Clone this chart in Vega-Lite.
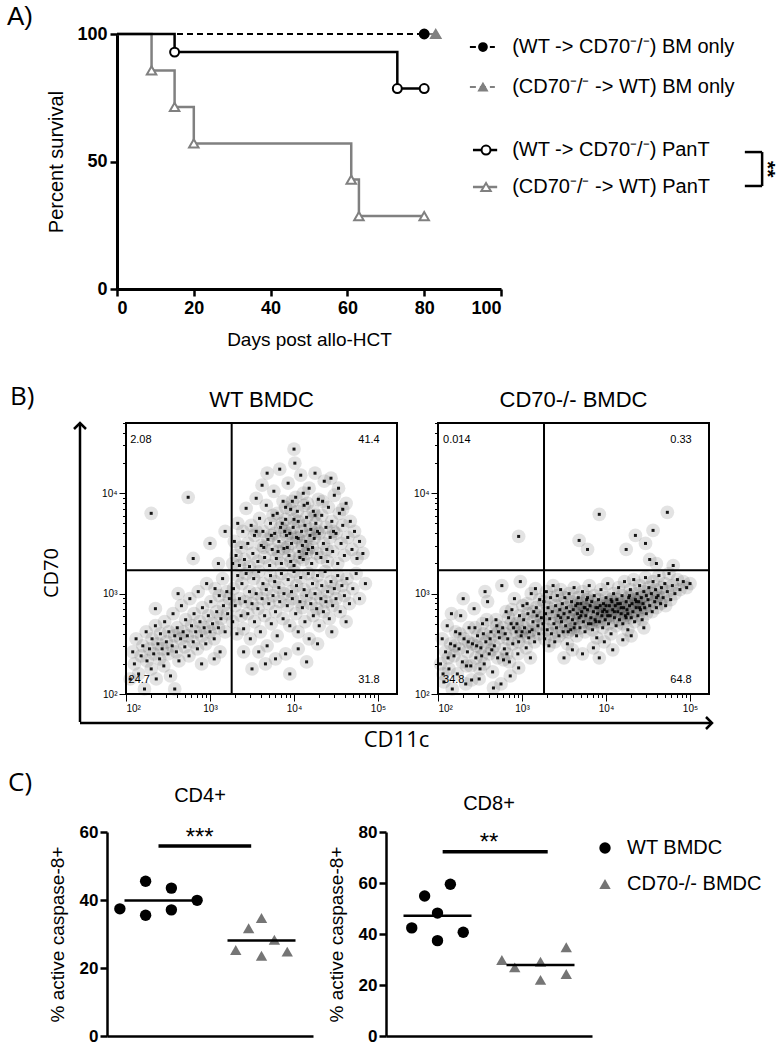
{
"$schema":"https://vega.github.io/schema/vega-lite/v6.json",
"autosize":{"type":"none"},
"padding":{"left":80,"top":34,"right":701,"bottom":1016},
"background":"white",
"config":{
 "view":{"stroke":null},
 "font":"Liberation Sans",
 "axis":{"labelFont":"Liberation Sans","titleFont":"Liberation Sans","titleFontWeight":"normal","domainColor":"black","tickColor":"black","labelColor":"black","titleColor":"black","grid":false},
 "title":{"font":"Liberation Sans","fontWeight":"normal","color":"black"},
 "text":{"font":"Liberation Sans","color":"black"},
 "legend":{"labelFont":"Liberation Sans","labelColor":"black"}
},
"datasets":{
 "surv":[
  {"series":"BMwt","day":0,"pct":100},{"series":"BMwt","day":80,"pct":100},
  {"series":"BMko","day":0,"pct":100},{"series":"BMko","day":83,"pct":100},
  {"series":"PTwt","day":0,"pct":100},{"series":"PTwt","day":15,"pct":92.9},{"series":"PTwt","day":73,"pct":78.6},{"series":"PTwt","day":80,"pct":78.6},
  {"series":"PTko","day":0,"pct":100},{"series":"PTko","day":9,"pct":85.7},{"series":"PTko","day":15,"pct":71.4},{"series":"PTko","day":20,"pct":57.1},{"series":"PTko","day":61,"pct":42.9},{"series":"PTko","day":63,"pct":28.6},{"series":"PTko","day":80,"pct":28.6}
 ],
 "wt":[
  {"cd11c":2.05,"cd70":2.15},{"cd11c":2.08,"cd70":2.42},{"cd11c":2.10,"cd70":2.30},{"cd11c":2.12,"cd70":2.55},{"cd11c":2.15,"cd70":2.20},{"cd11c":2.18,"cd70":2.38},{"cd11c":2.20,"cd70":2.48},{"cd11c":2.22,"cd70":2.05},{"cd11c":2.24,"cd70":2.62},{"cd11c":2.25,"cd70":2.33},
  {"cd11c":2.28,"cd70":2.45},{"cd11c":2.30,"cd70":2.25},{"cd11c":2.31,"cd70":2.55},{"cd11c":2.33,"cd70":2.40},{"cd11c":2.35,"cd70":2.68},{"cd11c":2.36,"cd70":2.15},{"cd11c":2.38,"cd70":2.50},{"cd11c":2.40,"cd70":2.35},{"cd11c":2.41,"cd70":2.60},{"cd11c":2.43,"cd70":2.45},
  {"cd11c":2.45,"cd70":2.28},{"cd11c":2.46,"cd70":2.72},{"cd11c":2.48,"cd70":2.52},{"cd11c":2.50,"cd70":2.40},{"cd11c":2.51,"cd70":2.62},{"cd11c":2.53,"cd70":2.18},{"cd11c":2.55,"cd70":2.48},{"cd11c":2.56,"cd70":2.80},{"cd11c":2.58,"cd70":2.58},{"cd11c":2.60,"cd70":2.42},
  {"cd11c":2.61,"cd70":2.66},{"cd11c":2.63,"cd70":2.33},{"cd11c":2.65,"cd70":2.55},{"cd11c":2.66,"cd70":2.88},{"cd11c":2.68,"cd70":2.62},{"cd11c":2.70,"cd70":2.47},{"cd11c":2.71,"cd70":2.74},{"cd11c":2.73,"cd70":2.58},{"cd11c":2.75,"cd70":2.38},{"cd11c":2.76,"cd70":2.95},
  {"cd11c":2.78,"cd70":2.68},{"cd11c":2.80,"cd70":2.52},{"cd11c":2.81,"cd70":2.80},{"cd11c":2.83,"cd70":2.62},{"cd11c":2.85,"cd70":2.45},{"cd11c":2.86,"cd70":3.02},{"cd11c":2.88,"cd70":2.72},{"cd11c":2.90,"cd70":2.58},{"cd11c":2.91,"cd70":2.86},{"cd11c":2.93,"cd70":2.66},
  {"cd11c":2.95,"cd70":2.50},{"cd11c":2.96,"cd70":3.10},{"cd11c":2.98,"cd70":2.78},{"cd11c":3.00,"cd70":2.62},{"cd11c":3.01,"cd70":2.92},{"cd11c":3.03,"cd70":2.70},{"cd11c":3.05,"cd70":2.55},{"cd11c":3.06,"cd70":3.05},{"cd11c":3.08,"cd70":2.82},{"cd11c":3.10,"cd70":2.66},
  {"cd11c":3.11,"cd70":2.98},{"cd11c":3.13,"cd70":2.75},{"cd11c":3.15,"cd70":3.15},{"cd11c":3.16,"cd70":2.88},{"cd11c":3.18,"cd70":2.62},{"cd11c":3.20,"cd70":3.02},{"cd11c":3.21,"cd70":2.80},{"cd11c":3.23,"cd70":2.95},{"cd11c":2.58,"cd70":2.05},{"cd11c":2.90,"cd70":2.30},
  {"cd11c":3.12,"cd70":2.42},{"cd11c":2.35,"cd70":2.85},{"cd11c":2.62,"cd70":3.00},{"cd11c":3.05,"cd70":2.35},
  {"cd11c":2.30,"cd70":3.80},{"cd11c":2.74,"cd70":3.96},{"cd11c":2.80,"cd70":3.35},{"cd11c":3.00,"cd70":3.50},{"cd11c":3.10,"cd70":3.30},{"cd11c":3.18,"cd70":3.62},
  {"cd11c":3.27,"cd70":2.72},{"cd11c":3.28,"cd70":3.05},{"cd11c":3.30,"cd70":2.88},{"cd11c":3.32,"cd70":2.60},{"cd11c":3.33,"cd70":3.18},{"cd11c":3.35,"cd70":2.95},{"cd11c":3.37,"cd70":2.78},{"cd11c":3.38,"cd70":3.10},{"cd11c":3.40,"cd70":2.65},{"cd11c":3.42,"cd70":2.92},
  {"cd11c":3.43,"cd70":3.20},{"cd11c":3.45,"cd70":2.80},{"cd11c":3.47,"cd70":3.02},{"cd11c":3.48,"cd70":2.55},{"cd11c":3.50,"cd70":2.90},{"cd11c":3.52,"cd70":3.15},{"cd11c":3.53,"cd70":2.72},{"cd11c":3.55,"cd70":3.00},{"cd11c":3.57,"cd70":2.85},{"cd11c":3.58,"cd70":3.22},
  {"cd11c":3.60,"cd70":2.62},{"cd11c":3.62,"cd70":2.95},{"cd11c":3.63,"cd70":3.10},{"cd11c":3.65,"cd70":2.78},{"cd11c":3.67,"cd70":3.04},{"cd11c":3.68,"cd70":2.48},{"cd11c":3.70,"cd70":2.90},{"cd11c":3.72,"cd70":3.18},{"cd11c":3.73,"cd70":2.70},{"cd11c":3.75,"cd70":2.98},
  {"cd11c":3.77,"cd70":3.12},{"cd11c":3.78,"cd70":2.82},{"cd11c":3.80,"cd70":2.58},{"cd11c":3.82,"cd70":3.06},{"cd11c":3.83,"cd70":2.92},{"cd11c":3.85,"cd70":3.20},{"cd11c":3.87,"cd70":2.75},{"cd11c":3.88,"cd70":3.00},{"cd11c":3.90,"cd70":2.40},{"cd11c":3.92,"cd70":2.88},
  {"cd11c":3.93,"cd70":3.14},{"cd11c":3.95,"cd70":2.68},{"cd11c":3.97,"cd70":3.02},{"cd11c":3.98,"cd70":2.95},{"cd11c":4.00,"cd70":3.22},{"cd11c":4.02,"cd70":2.80},{"cd11c":4.03,"cd70":3.08},{"cd11c":4.05,"cd70":2.62},{"cd11c":4.07,"cd70":2.92},{"cd11c":4.08,"cd70":3.16},
  {"cd11c":4.10,"cd70":2.86},{"cd11c":4.12,"cd70":3.04},{"cd11c":4.13,"cd70":2.72},{"cd11c":4.15,"cd70":2.98},{"cd11c":4.17,"cd70":3.20},{"cd11c":4.18,"cd70":2.55},{"cd11c":4.20,"cd70":2.90},{"cd11c":4.22,"cd70":3.10},{"cd11c":4.23,"cd70":2.78},{"cd11c":4.25,"cd70":3.00},
  {"cd11c":4.27,"cd70":2.85},{"cd11c":4.28,"cd70":3.18},{"cd11c":4.30,"cd70":2.68},{"cd11c":4.32,"cd70":2.95},{"cd11c":4.33,"cd70":3.08},{"cd11c":4.35,"cd70":2.82},{"cd11c":4.37,"cd70":3.22},{"cd11c":4.38,"cd70":2.92},{"cd11c":4.40,"cd70":3.02},{"cd11c":4.42,"cd70":2.75},
  {"cd11c":4.44,"cd70":3.12},{"cd11c":4.46,"cd70":2.88},{"cd11c":4.48,"cd70":3.05},{"cd11c":4.50,"cd70":2.95},{"cd11c":4.52,"cd70":3.18},{"cd11c":4.55,"cd70":2.82},{"cd11c":4.57,"cd70":3.08},{"cd11c":4.60,"cd70":2.98},{"cd11c":4.63,"cd70":3.15},{"cd11c":4.66,"cd70":2.90},
  {"cd11c":4.70,"cd70":3.05},{"cd11c":4.74,"cd70":3.20},{"cd11c":4.78,"cd70":2.95},{"cd11c":3.78,"cd70":2.35},{"cd11c":4.05,"cd70":2.45},{"cd11c":4.28,"cd70":2.50},{"cd11c":3.58,"cd70":2.42},{"cd11c":4.45,"cd70":2.62},{"cd11c":3.40,"cd70":2.42},{"cd11c":4.62,"cd70":2.72},
  {"cd11c":3.95,"cd70":2.20},{"cd11c":4.15,"cd70":2.32},{"cd11c":3.66,"cd70":2.30},{"cd11c":4.85,"cd70":3.10},{"cd11c":3.50,"cd70":2.25},
  {"cd11c":3.27,"cd70":3.30},{"cd11c":3.29,"cd70":3.52},{"cd11c":3.31,"cd70":3.38},{"cd11c":3.33,"cd70":3.70},{"cd11c":3.35,"cd70":3.28},{"cd11c":3.37,"cd70":3.46},{"cd11c":3.39,"cd70":3.62},{"cd11c":3.41,"cd70":3.34},{"cd11c":3.43,"cd70":3.85},{"cd11c":3.45,"cd70":3.50},
  {"cd11c":3.47,"cd70":3.27},{"cd11c":3.49,"cd70":3.68},{"cd11c":3.51,"cd70":3.40},{"cd11c":3.53,"cd70":3.58},{"cd11c":3.55,"cd70":3.95},{"cd11c":3.57,"cd70":3.32},{"cd11c":3.59,"cd70":3.75},{"cd11c":3.61,"cd70":3.48},{"cd11c":3.63,"cd70":3.62},{"cd11c":3.65,"cd70":3.36},
  {"cd11c":3.67,"cd70":3.88},{"cd11c":3.69,"cd70":3.54},{"cd11c":3.71,"cd70":3.28},{"cd11c":3.72,"cd70":3.70},{"cd11c":3.74,"cd70":3.44},{"cd11c":3.76,"cd70":4.02},{"cd11c":3.77,"cd70":3.60},{"cd11c":3.79,"cd70":3.35},{"cd11c":3.80,"cd70":3.80},{"cd11c":3.82,"cd70":3.52},
  {"cd11c":3.84,"cd70":3.66},{"cd11c":3.85,"cd70":3.30},{"cd11c":3.87,"cd70":3.92},{"cd11c":3.88,"cd70":3.45},{"cd11c":3.90,"cd70":3.74},{"cd11c":3.91,"cd70":3.58},{"cd11c":3.93,"cd70":4.10},{"cd11c":3.94,"cd70":3.38},{"cd11c":3.96,"cd70":3.84},{"cd11c":3.97,"cd70":3.50},
  {"cd11c":3.99,"cd70":3.66},{"cd11c":4.00,"cd70":3.28},{"cd11c":4.02,"cd70":3.96},{"cd11c":4.03,"cd70":3.56},{"cd11c":4.05,"cd70":3.72},{"cd11c":4.06,"cd70":3.42},{"cd11c":4.08,"cd70":4.18},{"cd11c":4.09,"cd70":3.62},{"cd11c":4.11,"cd70":3.34},{"cd11c":4.12,"cd70":3.88},
  {"cd11c":4.14,"cd70":3.52},{"cd11c":4.15,"cd70":3.76},{"cd11c":4.17,"cd70":3.44},{"cd11c":4.18,"cd70":4.05},{"cd11c":4.20,"cd70":3.64},{"cd11c":4.21,"cd70":3.30},{"cd11c":4.23,"cd70":3.82},{"cd11c":4.24,"cd70":3.55},{"cd11c":4.26,"cd70":3.70},{"cd11c":4.27,"cd70":3.40},
  {"cd11c":4.29,"cd70":3.94},{"cd11c":4.30,"cd70":3.60},{"cd11c":4.32,"cd70":3.36},{"cd11c":4.33,"cd70":3.78},{"cd11c":4.35,"cd70":3.50},{"cd11c":4.36,"cd70":4.12},{"cd11c":4.38,"cd70":3.66},{"cd11c":4.40,"cd70":3.32},{"cd11c":4.41,"cd70":3.86},{"cd11c":4.43,"cd70":3.56},
  {"cd11c":4.45,"cd70":3.72},{"cd11c":4.46,"cd70":3.42},{"cd11c":4.48,"cd70":3.98},{"cd11c":4.50,"cd70":3.60},{"cd11c":4.52,"cd70":3.30},{"cd11c":4.54,"cd70":3.80},{"cd11c":4.56,"cd70":3.50},{"cd11c":4.58,"cd70":3.68},{"cd11c":4.60,"cd70":3.38},{"cd11c":4.62,"cd70":3.90},
  {"cd11c":4.64,"cd70":3.56},{"cd11c":4.67,"cd70":3.72},{"cd11c":4.69,"cd70":3.44},{"cd11c":4.72,"cd70":3.62},{"cd11c":4.75,"cd70":3.35},{"cd11c":4.78,"cd70":3.52},{"cd11c":4.82,"cd70":3.40},{"cd11c":3.83,"cd70":4.24},{"cd11c":4.01,"cd70":4.30},{"cd11c":4.25,"cd70":4.20},
  {"cd11c":3.62,"cd70":4.08},{"cd11c":4.44,"cd70":4.15},{"cd11c":3.95,"cd70":3.60},{"cd11c":4.10,"cd70":3.48},{"cd11c":3.86,"cd70":3.70},{"cd11c":4.04,"cd70":3.82},{"cd11c":4.19,"cd70":3.58},{"cd11c":3.92,"cd70":3.46},{"cd11c":4.13,"cd70":3.68},{"cd11c":3.98,"cd70":3.92},
  {"cd11c":4.07,"cd70":3.36},{"cd11c":3.89,"cd70":3.62},{"cd11c":4.16,"cd70":3.90},{"cd11c":3.81,"cd70":3.42},{"cd11c":4.22,"cd70":3.46},{"cd11c":4.00,"cd70":3.74},{"cd11c":3.73,"cd70":3.58},{"cd11c":4.28,"cd70":3.62},{"cd11c":3.96,"cd70":3.32},{"cd11c":4.11,"cd70":4.00},
  {"cd11c":3.64,"cd70":3.46},{"cd11c":4.34,"cd70":3.92},{"cd11c":3.55,"cd70":3.62},{"cd11c":4.47,"cd70":3.62},{"cd11c":3.75,"cd70":3.78},{"cd11c":4.58,"cd70":3.84},{"cd11c":4.39,"cd70":3.44},{"cd11c":3.68,"cd70":4.20},{"cd11c":4.53,"cd70":4.05},{"cd11c":4.00,"cd70":4.44},
  {"cd11c":4.05,"cd70":3.55},{"cd11c":3.90,"cd70":3.86},{"cd11c":4.25,"cd70":3.78},{"cd11c":4.15,"cd70":3.40}
 ],
 "ko":[
  {"cd11c":2.03,"cd70":2.30},{"cd11c":2.05,"cd70":2.55},{"cd11c":2.07,"cd70":2.12},{"cd11c":2.09,"cd70":2.42},{"cd11c":2.11,"cd70":2.68},{"cd11c":2.13,"cd70":2.25},{"cd11c":2.15,"cd70":2.50},{"cd11c":2.17,"cd70":2.05},{"cd11c":2.19,"cd70":2.38},{"cd11c":2.21,"cd70":2.62},
  {"cd11c":2.23,"cd70":2.20},{"cd11c":2.25,"cd70":2.45},{"cd11c":2.27,"cd70":2.78},{"cd11c":2.29,"cd70":2.32},{"cd11c":2.31,"cd70":2.55},{"cd11c":2.33,"cd70":2.10},{"cd11c":2.35,"cd70":2.42},{"cd11c":2.37,"cd70":2.66},{"cd11c":2.39,"cd70":2.28},{"cd11c":2.41,"cd70":2.50},
  {"cd11c":2.43,"cd70":2.85},{"cd11c":2.45,"cd70":2.36},{"cd11c":2.47,"cd70":2.58},{"cd11c":2.49,"cd70":2.15},{"cd11c":2.51,"cd70":2.46},{"cd11c":2.53,"cd70":2.70},{"cd11c":2.55,"cd70":2.30},{"cd11c":2.57,"cd70":2.52},{"cd11c":2.59,"cd70":2.92},{"cd11c":2.61,"cd70":2.40},
  {"cd11c":2.63,"cd70":2.62},{"cd11c":2.65,"cd70":2.22},{"cd11c":2.67,"cd70":2.48},{"cd11c":2.69,"cd70":2.74},{"cd11c":2.71,"cd70":2.36},{"cd11c":2.73,"cd70":2.56},{"cd11c":2.75,"cd70":2.10},{"cd11c":2.77,"cd70":2.66},{"cd11c":2.79,"cd70":2.45},{"cd11c":2.81,"cd70":2.82},
  {"cd11c":2.83,"cd70":2.55},{"cd11c":2.85,"cd70":2.32},{"cd11c":2.87,"cd70":2.70},{"cd11c":2.89,"cd70":2.50},{"cd11c":2.91,"cd70":2.95},{"cd11c":2.93,"cd70":2.62},{"cd11c":2.95,"cd70":2.40},{"cd11c":2.97,"cd70":2.78},{"cd11c":2.99,"cd70":2.58},{"cd11c":3.01,"cd70":2.88},
  {"cd11c":3.03,"cd70":2.66},{"cd11c":3.05,"cd70":2.46},{"cd11c":3.07,"cd70":2.80},{"cd11c":3.09,"cd70":2.62},{"cd11c":3.11,"cd70":3.00},{"cd11c":3.13,"cd70":2.72},{"cd11c":3.15,"cd70":2.52},{"cd11c":3.17,"cd70":2.86},{"cd11c":3.19,"cd70":2.68},{"cd11c":3.21,"cd70":2.94},
  {"cd11c":3.23,"cd70":2.76},{"cd11c":2.26,"cd70":2.60},{"cd11c":2.34,"cd70":2.28},{"cd11c":2.44,"cd70":2.66},{"cd11c":2.52,"cd70":2.38},{"cd11c":2.58,"cd70":2.74},{"cd11c":2.64,"cd70":2.44},{"cd11c":2.72,"cd70":2.62},{"cd11c":2.78,"cd70":2.34},{"cd11c":2.84,"cd70":2.76},
  {"cd11c":2.90,"cd70":2.66},{"cd11c":2.96,"cd70":2.52},{"cd11c":3.02,"cd70":2.74},{"cd11c":3.08,"cd70":2.56},{"cd11c":3.14,"cd70":2.82},{"cd11c":3.20,"cd70":2.60},{"cd11c":2.62,"cd70":2.55},{"cd11c":2.70,"cd70":2.68},{"cd11c":2.80,"cd70":2.60},{"cd11c":2.88,"cd70":2.84},
  {"cd11c":2.94,"cd70":2.70},{"cd11c":3.00,"cd70":2.62},{"cd11c":3.06,"cd70":2.90},{"cd11c":3.12,"cd70":2.64},{"cd11c":3.18,"cd70":2.78},{"cd11c":2.46,"cd70":2.48},{"cd11c":2.54,"cd70":2.60},{"cd11c":2.36,"cd70":2.52},{"cd11c":2.20,"cd70":2.48},{"cd11c":2.12,"cd70":2.36},
  {"cd11c":2.40,"cd70":2.14},{"cd11c":2.66,"cd70":2.06},{"cd11c":2.86,"cd70":2.18},{"cd11c":2.96,"cd70":2.26},{"cd11c":3.10,"cd70":2.36},{"cd11c":2.56,"cd70":3.02},{"cd11c":2.30,"cd70":2.95},{"cd11c":2.76,"cd70":3.08},{"cd11c":2.98,"cd70":3.12},{"cd11c":2.16,"cd70":2.80},
  {"cd11c":2.06,"cd70":2.20},{"cd11c":2.50,"cd70":2.25},{"cd11c":3.16,"cd70":3.05},{"cd11c":2.82,"cd70":2.40},
  {"cd11c":3.25,"cd70":2.70},{"cd11c":3.26,"cd70":2.92},{"cd11c":3.27,"cd70":2.55},{"cd11c":3.28,"cd70":2.80},{"cd11c":3.29,"cd70":3.02},{"cd11c":3.30,"cd70":2.64},{"cd11c":3.31,"cd70":2.86},{"cd11c":3.32,"cd70":2.48},{"cd11c":3.33,"cd70":2.75},{"cd11c":3.34,"cd70":2.96},
  {"cd11c":3.35,"cd70":2.60},{"cd11c":3.36,"cd70":2.82},{"cd11c":3.37,"cd70":3.08},{"cd11c":3.38,"cd70":2.70},{"cd11c":3.39,"cd70":2.52},{"cd11c":3.40,"cd70":2.88},{"cd11c":3.41,"cd70":2.66},{"cd11c":3.42,"cd70":2.98},{"cd11c":3.43,"cd70":2.78},{"cd11c":3.44,"cd70":2.58},
  {"cd11c":3.45,"cd70":2.84},{"cd11c":3.46,"cd70":3.04},{"cd11c":3.47,"cd70":2.72},{"cd11c":3.48,"cd70":2.90},{"cd11c":3.49,"cd70":2.62},{"cd11c":3.50,"cd70":2.80},{"cd11c":3.51,"cd70":2.96},{"cd11c":3.52,"cd70":2.68},{"cd11c":3.53,"cd70":2.86},{"cd11c":3.54,"cd70":2.50},
  {"cd11c":3.55,"cd70":2.76},{"cd11c":3.56,"cd70":3.00},{"cd11c":3.57,"cd70":2.82},{"cd11c":3.58,"cd70":2.64},{"cd11c":3.59,"cd70":2.92},{"cd11c":3.60,"cd70":2.74},{"cd11c":3.61,"cd70":2.84},{"cd11c":3.62,"cd70":3.06},{"cd11c":3.63,"cd70":2.70},{"cd11c":3.64,"cd70":2.88},
  {"cd11c":3.65,"cd70":2.58},{"cd11c":3.66,"cd70":2.80},{"cd11c":3.67,"cd70":2.96},{"cd11c":3.68,"cd70":2.76},{"cd11c":3.69,"cd70":2.66},{"cd11c":3.70,"cd70":2.90},{"cd11c":3.71,"cd70":2.82},{"cd11c":3.72,"cd70":3.02},{"cd11c":3.73,"cd70":2.72},{"cd11c":3.74,"cd70":2.86},
  {"cd11c":3.75,"cd70":2.62},{"cd11c":3.76,"cd70":2.78},{"cd11c":3.77,"cd70":2.94},{"cd11c":3.78,"cd70":2.84},{"cd11c":3.79,"cd70":2.70},{"cd11c":3.80,"cd70":3.08},{"cd11c":3.81,"cd70":2.88},{"cd11c":3.82,"cd70":2.76},{"cd11c":3.83,"cd70":2.92},{"cd11c":3.84,"cd70":2.64},
  {"cd11c":3.85,"cd70":2.82},{"cd11c":3.86,"cd70":2.98},{"cd11c":3.87,"cd70":2.74},{"cd11c":3.88,"cd70":2.86},{"cd11c":3.89,"cd70":2.56},{"cd11c":3.90,"cd70":2.80},{"cd11c":3.91,"cd70":2.94},{"cd11c":3.92,"cd70":2.72},{"cd11c":3.93,"cd70":2.88},{"cd11c":3.94,"cd70":3.04},
  {"cd11c":3.95,"cd70":2.78},{"cd11c":3.96,"cd70":2.66},{"cd11c":3.97,"cd70":2.90},{"cd11c":3.98,"cd70":2.84},{"cd11c":3.99,"cd70":2.74},{"cd11c":4.00,"cd70":2.96},{"cd11c":4.01,"cd70":2.82},{"cd11c":4.02,"cd70":3.10},{"cd11c":4.03,"cd70":2.70},{"cd11c":4.04,"cd70":2.88},
  {"cd11c":4.05,"cd70":2.78},{"cd11c":4.06,"cd70":2.60},{"cd11c":4.07,"cd70":2.92},{"cd11c":4.08,"cd70":2.84},{"cd11c":4.09,"cd70":3.00},{"cd11c":4.10,"cd70":2.76},{"cd11c":4.11,"cd70":2.88},{"cd11c":4.12,"cd70":2.68},{"cd11c":4.13,"cd70":2.94},{"cd11c":4.14,"cd70":2.82},
  {"cd11c":4.15,"cd70":3.06},{"cd11c":4.16,"cd70":2.74},{"cd11c":4.17,"cd70":2.90},{"cd11c":4.18,"cd70":2.80},{"cd11c":4.19,"cd70":2.98},{"cd11c":4.20,"cd70":2.70},{"cd11c":4.21,"cd70":2.86},{"cd11c":4.22,"cd70":3.12},{"cd11c":4.23,"cd70":2.78},{"cd11c":4.24,"cd70":2.92},
  {"cd11c":4.25,"cd70":2.84},{"cd11c":4.26,"cd70":2.64},{"cd11c":4.27,"cd70":2.96},{"cd11c":4.28,"cd70":2.88},{"cd11c":4.29,"cd70":3.04},{"cd11c":4.30,"cd70":2.76},{"cd11c":4.31,"cd70":2.90},{"cd11c":4.32,"cd70":2.82},{"cd11c":4.33,"cd70":3.14},{"cd11c":4.34,"cd70":2.72},
  {"cd11c":4.35,"cd70":2.94},{"cd11c":4.36,"cd70":2.86},{"cd11c":4.37,"cd70":3.00},{"cd11c":4.38,"cd70":2.78},{"cd11c":4.39,"cd70":2.92},{"cd11c":4.40,"cd70":3.08},{"cd11c":4.41,"cd70":2.84},{"cd11c":4.42,"cd70":2.96},{"cd11c":4.43,"cd70":2.74},{"cd11c":4.44,"cd70":2.90},
  {"cd11c":4.45,"cd70":3.02},{"cd11c":4.46,"cd70":2.86},{"cd11c":4.47,"cd70":3.16},{"cd11c":4.48,"cd70":2.80},{"cd11c":4.50,"cd70":2.94},{"cd11c":4.51,"cd70":3.06},{"cd11c":4.52,"cd70":2.88},{"cd11c":4.54,"cd70":3.00},{"cd11c":4.55,"cd70":2.82},{"cd11c":4.56,"cd70":3.12},
  {"cd11c":4.58,"cd70":2.92},{"cd11c":4.59,"cd70":3.04},{"cd11c":4.60,"cd70":2.86},{"cd11c":4.62,"cd70":2.98},{"cd11c":4.63,"cd70":3.18},{"cd11c":4.65,"cd70":2.90},{"cd11c":4.66,"cd70":3.06},{"cd11c":4.68,"cd70":2.96},{"cd11c":4.70,"cd70":3.10},{"cd11c":4.71,"cd70":2.88},
  {"cd11c":4.73,"cd70":3.02},{"cd11c":4.75,"cd70":3.20},{"cd11c":4.77,"cd70":2.94},{"cd11c":4.79,"cd70":3.08},{"cd11c":4.82,"cd70":3.00},{"cd11c":4.85,"cd70":3.14},{"cd11c":4.88,"cd70":3.04},{"cd11c":4.92,"cd70":3.12},{"cd11c":4.96,"cd70":3.06},{"cd11c":5.00,"cd70":3.10},
  {"cd11c":3.60,"cd70":2.44},{"cd11c":3.72,"cd70":2.40},{"cd11c":3.85,"cd70":2.46},{"cd11c":3.98,"cd70":2.52},{"cd11c":4.08,"cd70":2.44},{"cd11c":4.20,"cd70":2.54},{"cd11c":3.50,"cd70":2.36},{"cd11c":3.92,"cd70":2.36},{"cd11c":4.30,"cd70":2.58},{"cd11c":4.45,"cd70":2.66},
  {"cd11c":3.66,"cd70":2.90},{"cd11c":3.78,"cd70":2.96},{"cd11c":3.90,"cd70":2.86},{"cd11c":4.02,"cd70":2.78},{"cd11c":4.14,"cd70":2.90},{"cd11c":4.26,"cd70":2.80},{"cd11c":3.70,"cd70":2.78},{"cd11c":3.82,"cd70":2.70},{"cd11c":3.96,"cd70":2.82},{"cd11c":4.06,"cd70":2.94},
  {"cd11c":4.18,"cd70":2.86},{"cd11c":4.28,"cd70":2.98},{"cd11c":3.62,"cd70":2.66},{"cd11c":3.88,"cd70":2.72},{"cd11c":4.10,"cd70":2.82},{"cd11c":4.36,"cd70":2.92},{"cd11c":4.48,"cd70":2.98},{"cd11c":4.60,"cd70":2.96},{"cd11c":3.55,"cd70":2.62},{"cd11c":3.75,"cd70":2.86},
  {"cd11c":4.00,"cd70":2.88},{"cd11c":4.24,"cd70":2.76},{"cd11c":3.46,"cd70":2.76},{"cd11c":4.40,"cd70":2.86},
  {"cd11c":2.96,"cd70":3.57},{"cd11c":3.68,"cd70":3.53},{"cd11c":3.78,"cd70":3.44},{"cd11c":3.92,"cd70":3.79},{"cd11c":4.24,"cd70":3.44},{"cd11c":4.35,"cd70":3.58},{"cd11c":4.47,"cd70":3.50},{"cd11c":4.56,"cd70":3.63},{"cd11c":4.73,"cd70":3.81},{"cd11c":4.60,"cd70":3.30},
  {"cd11c":4.80,"cd70":3.28},{"cd11c":4.52,"cd70":3.34}
 ],
 "cd4":[
  {"group":"WT BMDC","col":-3,"value":37.4},{"group":"WT BMDC","col":-1,"value":45.5},{"group":"WT BMDC","col":-1,"value":35.5},{"group":"WT BMDC","col":1,"value":43.5},{"group":"WT BMDC","col":1,"value":37.1},{"group":"WT BMDC","col":3,"value":39.9},
  {"group":"CD70-/- BMDC","col":-2,"value":25.3},{"group":"CD70-/- BMDC","col":-1,"value":31.7},{"group":"CD70-/- BMDC","col":0,"value":34.7},{"group":"CD70-/- BMDC","col":0,"value":23.6},{"group":"CD70-/- BMDC","col":1,"value":28.3},{"group":"CD70-/- BMDC","col":2,"value":24.8}
 ],
 "cd8":[
  {"group":"WT BMDC","col":-2,"value":42.4},{"group":"WT BMDC","col":-1,"value":54.9},{"group":"WT BMDC","col":0,"value":48.2},{"group":"WT BMDC","col":0,"value":37.4},{"group":"WT BMDC","col":1,"value":59.5},{"group":"WT BMDC","col":2,"value":40.7},
  {"group":"CD70-/- BMDC","col":-3,"value":29.8},{"group":"CD70-/- BMDC","col":-2,"value":26.9},{"group":"CD70-/- BMDC","col":0,"value":29.1},{"group":"CD70-/- BMDC","col":0,"value":22.0},{"group":"CD70-/- BMDC","col":2,"value":34.8},{"group":"CD70-/- BMDC","col":2,"value":24.3}
 ]
},
"bounds":"flush",
"spacing":798,
"vconcat":[
 {"bounds":"flush","spacing":389,"vconcat":[
  {"bounds":"flush","spacing":36,"hconcat":[
   {"width":1,"height":1,"title":{"text":"A)","anchor":"start","frame":"group","dx":-73,"offset":2,"fontSize":26},"data":{"values":[{}]},"mark":{"type":"point","opacity":0}},
   {"width":384,"height":255,
    "layer":[
     {"data":{"name":"surv"},
      "encoding":{
       "x":{"field":"day","type":"quantitative","scale":{"domain":[0,100],"nice":false},"axis":{"values":[0,20,40,60,80,100],"title":"Days post allo-HCT","titleFontSize":19,"titlePadding":13,"labelFontSize":18,"labelFontWeight":"bold","labelPadding":3,"tickSize":7,"tickWidth":2.5,"domainWidth":3}},
       "y":{"field":"pct","type":"quantitative","scale":{"domain":[0,100],"nice":false},"axis":{"values":[0,50,100],"title":"Percent survival","titleFontSize":20,"titlePadding":10,"labelFontSize":18,"labelFontWeight":"bold","labelPadding":3,"tickSize":7,"tickWidth":2.5,"domainWidth":3}}
      },
      "layer":[
       {"transform":[{"filter":"datum.series=='BMko'"}],"mark":{"type":"line","interpolate":"step-after","color":"#808080","strokeWidth":2,"strokeDash":[6,4]}},
       {"transform":[{"filter":"datum.series=='BMwt'"}],"mark":{"type":"line","interpolate":"step-after","color":"black","strokeWidth":2,"strokeDash":[6,4]}},
       {"transform":[{"filter":"datum.series=='PTko'"}],"mark":{"type":"line","interpolate":"step-after","color":"#808080","strokeWidth":2.5}},
       {"transform":[{"filter":"datum.series=='PTwt'"}],"mark":{"type":"line","interpolate":"step-after","color":"black","strokeWidth":2.5}},
       {"transform":[{"filter":"datum.day>0 && (datum.series=='BMko' || datum.series=='PTko')"}],"mark":{"type":"point","shape":"triangle-up","size":90,"stroke":"#808080","strokeWidth":2,"opacity":1},"encoding":{"fill":{"condition":{"test":"datum.series=='BMko'","value":"#808080"},"value":"white"}}},
       {"transform":[{"filter":"datum.day>0 && (datum.series=='BMwt' || datum.series=='PTwt')"}],"mark":{"type":"point","shape":"circle","size":80,"stroke":"black","strokeWidth":2,"opacity":1},"encoding":{"fill":{"condition":{"test":"datum.series=='BMwt'","value":"black"},"value":"white"}}}
      ]},
     {"data":{"values":[{}]},"mark":{"type":"rule","color":"black","strokeWidth":2,"strokeDash":[6,4]},"encoding":{"x":{"datum":91.9,"type":"quantitative"},"x2":{"datum":98.4},"y":{"datum":94.9,"type":"quantitative"}}},
     {"data":{"values":[{}]},"mark":{"type":"point","shape":"circle","size":60,"fill":"black","stroke":"black","opacity":1},"encoding":{"x":{"datum":95.3,"type":"quantitative"},"y":{"datum":94.9,"type":"quantitative"}}},
     {"data":{"values":[{"label":"(WT -> CD70⁻/⁻) BM only"}]},"mark":{"type":"text","align":"left","baseline":"middle","fontSize":20},"encoding":{"x":{"datum":102.9,"type":"quantitative"},"y":{"datum":94.9,"type":"quantitative"},"text":{"field":"label"}}},
     {"data":{"values":[{}]},"mark":{"type":"rule","color":"#808080","strokeWidth":2,"strokeDash":[6,4]},"encoding":{"x":{"datum":91.9,"type":"quantitative"},"x2":{"datum":98.4},"y":{"datum":79.2,"type":"quantitative"}}},
     {"data":{"values":[{}]},"mark":{"type":"point","shape":"triangle-up","size":60,"fill":"#808080","stroke":"#808080","opacity":1},"encoding":{"x":{"datum":95.3,"type":"quantitative"},"y":{"datum":79.2,"type":"quantitative"}}},
     {"data":{"values":[{"label":"(CD70⁻/⁻ -> WT) BM only"}]},"mark":{"type":"text","align":"left","baseline":"middle","fontSize":20},"encoding":{"x":{"datum":102.9,"type":"quantitative"},"y":{"datum":79.2,"type":"quantitative"},"text":{"field":"label"}}},
     {"data":{"values":[{}]},"mark":{"type":"rule","color":"black","strokeWidth":2.5},"encoding":{"x":{"datum":92.7,"type":"quantitative"},"x2":{"datum":99.0},"y":{"datum":54.5,"type":"quantitative"}}},
     {"data":{"values":[{}]},"mark":{"type":"point","shape":"circle","size":80,"fill":"white","stroke":"black","strokeWidth":2,"opacity":1},"encoding":{"x":{"datum":96.1,"type":"quantitative"},"y":{"datum":54.5,"type":"quantitative"}}},
     {"data":{"values":[{"label":"(WT -> CD70⁻/⁻) PanT"}]},"mark":{"type":"text","align":"left","baseline":"middle","fontSize":20},"encoding":{"x":{"datum":102.9,"type":"quantitative"},"y":{"datum":54.5,"type":"quantitative"},"text":{"field":"label"}}},
     {"data":{"values":[{}]},"mark":{"type":"rule","color":"#808080","strokeWidth":2.5},"encoding":{"x":{"datum":92.7,"type":"quantitative"},"x2":{"datum":99.0},"y":{"datum":40.0,"type":"quantitative"}}},
     {"data":{"values":[{}]},"mark":{"type":"point","shape":"triangle-up","size":90,"fill":"white","stroke":"#808080","strokeWidth":2,"opacity":1},"encoding":{"x":{"datum":96.1,"type":"quantitative"},"y":{"datum":40.0,"type":"quantitative"}}},
     {"data":{"values":[{"label":"(CD70⁻/⁻ -> WT) PanT"}]},"mark":{"type":"text","align":"left","baseline":"middle","fontSize":20},"encoding":{"x":{"datum":102.9,"type":"quantitative"},"y":{"datum":40.0,"type":"quantitative"},"text":{"field":"label"}}},
     {"data":{"values":[{}]},"mark":{"type":"rule","color":"black","strokeWidth":2.5},"encoding":{"x":{"datum":168,"type":"quantitative"},"y":{"datum":40.4,"type":"quantitative"},"y2":{"datum":53.7}}},
     {"data":{"values":[{}]},"mark":{"type":"rule","color":"black","strokeWidth":2.5},"encoding":{"x":{"datum":163.5,"type":"quantitative"},"x2":{"datum":168},"y":{"datum":53.7,"type":"quantitative"}}},
     {"data":{"values":[{}]},"mark":{"type":"rule","color":"black","strokeWidth":2.5},"encoding":{"x":{"datum":163.5,"type":"quantitative"},"x2":{"datum":168},"y":{"datum":40.4,"type":"quantitative"}}},
     {"data":{"values":[{"label":"**"}]},"mark":{"type":"text","align":"center","baseline":"middle","fontSize":21,"fontWeight":"bold","angle":90},"encoding":{"x":{"datum":169.2,"type":"quantitative"},"y":{"datum":47,"type":"quantitative"},"text":{"field":"label"}}}
    ]}
  ]},
  {"bounds":"flush","spacing":299,"vconcat":[
   {"bounds":"flush","spacing":45,"hconcat":[
    {"width":1,"height":299,
     "title":{"text":"B)","anchor":"start","frame":"group","dx":-70,"offset":8,"fontSize":26,"font":"Open Sans"},
     "data":{"values":[{}]},
     "layer":[
      {"mark":{"type":"rule","strokeWidth":2.5,"color":"black"},"encoding":{"x":{"datum":0,"type":"quantitative","scale":{"domain":[0,1]},"axis":null}}},
      {"mark":{"type":"point","shape":"M-1,1L0,0L1,1","size":144,"filled":false,"strokeWidth":2.5,"color":"black","opacity":1},
       "encoding":{"x":{"datum":0,"type":"quantitative"},"y":{"datum":1,"type":"quantitative","scale":{"domain":[0,1]},"axis":{"title":"CD70","domain":false,"ticks":false,"labels":false,"titleFontSize":20,"titleFont":"Open Sans","titlePadding":19}}}}
     ]},
    {"bounds":"flush","spacing":41,"hconcat":[
     {"width":271,"height":271,
      "title":{"text":"WT BMDC","fontSize":22,"offset":10},
      "view":{"stroke":"black","strokeWidth":2},
      "layer":[
       {"data":{"name":"wt"},
        "resolve":{"axis":{"x":"independent","y":"independent"}},
        "layer":[
         {"mark":{"type":"circle","size":190,"color":"black","opacity":0.11},
          "encoding":{
           "x":{"field":"cd11c","type":"quantitative","scale":{"domain":[2,5.226],"nice":false,"zero":false},"axis":{"orient":"bottom","title":null,"domain":false,"labels":false,"values":[2.301,2.477,2.602,2.699,2.778,2.845,2.903,2.954,3.301,3.477,3.602,3.699,3.778,3.845,3.903,3.954,4.301,4.477,4.602,4.699,4.778,4.845,4.903,4.954],"tickSize":3.5,"tickWidth":1}},
           "y":{"field":"cd70","type":"quantitative","scale":{"domain":[2,4.70],"nice":false,"zero":false},"axis":{"orient":"left","title":null,"domain":false,"labels":false,"values":[2.301,2.477,2.602,2.699,2.778,2.845,2.903,2.954,3.301,3.477,3.602,3.699,3.778,3.845,3.903,3.954,4.301,4.477,4.602,4.699],"tickSize":3.5,"tickWidth":1}}}},
         {"mark":{"type":"square","size":9,"color":"black","opacity":0.9},
          "encoding":{
           "x":{"field":"cd11c","type":"quantitative","axis":{"orient":"bottom","title":null,"domain":false,"values":[2,3,4,5],"labelExpr":"datum.value==2?'10²':datum.value==3?'10³':datum.value==4?'10⁴':'10⁵'","labelFontSize":10,"labelPadding":2,"tickSize":7,"tickWidth":1}},
           "y":{"field":"cd70","type":"quantitative","axis":{"orient":"left","title":null,"domain":false,"values":[2,3,4],"labelExpr":"datum.value==2?'10²':datum.value==3?'10³':'10⁴'","labelFontSize":10,"labelPadding":2,"tickSize":7,"tickWidth":1}}}}
        ]},
       {"data":{"values":[{}]},"mark":{"type":"rule","color":"black","strokeWidth":2},"encoding":{"x":{"datum":3.258,"type":"quantitative","axis":null}}},
       {"data":{"values":[{}]},"mark":{"type":"rule","color":"black","strokeWidth":2},"encoding":{"y":{"datum":3.234,"type":"quantitative","axis":null}}},
       {"data":{"values":[{"label":"2.08"}]},"mark":{"type":"text","align":"left","baseline":"middle","fontSize":11},"encoding":{"x":{"datum":2.05,"type":"quantitative","axis":null},"y":{"datum":4.53,"type":"quantitative","axis":null},"text":{"field":"label"}}},
       {"data":{"values":[{"label":"41.4"}]},"mark":{"type":"text","align":"right","baseline":"middle","fontSize":11},"encoding":{"x":{"datum":5.02,"type":"quantitative","axis":null},"y":{"datum":4.53,"type":"quantitative","axis":null},"text":{"field":"label"}}},
       {"data":{"values":[{"label":"24.7"}]},"mark":{"type":"text","align":"left","baseline":"middle","fontSize":11},"encoding":{"x":{"datum":2.03,"type":"quantitative","axis":null},"y":{"datum":2.14,"type":"quantitative","axis":null},"text":{"field":"label"}}},
       {"data":{"values":[{"label":"31.8"}]},"mark":{"type":"text","align":"right","baseline":"middle","fontSize":11},"encoding":{"x":{"datum":5.02,"type":"quantitative","axis":null},"y":{"datum":2.14,"type":"quantitative","axis":null},"text":{"field":"label"}}}
      ]},
     {"width":271,"height":271,
      "title":{"text":"CD70-/- BMDC","fontSize":22,"offset":10},
      "view":{"stroke":"black","strokeWidth":2},
      "layer":[
       {"data":{"name":"ko"},
        "resolve":{"axis":{"x":"independent","y":"independent"}},
        "layer":[
         {"mark":{"type":"circle","size":190,"color":"black","opacity":0.11},
          "encoding":{
           "x":{"field":"cd11c","type":"quantitative","scale":{"domain":[2,5.226],"nice":false,"zero":false},"axis":{"orient":"bottom","title":null,"domain":false,"labels":false,"values":[2.301,2.477,2.602,2.699,2.778,2.845,2.903,2.954,3.301,3.477,3.602,3.699,3.778,3.845,3.903,3.954,4.301,4.477,4.602,4.699,4.778,4.845,4.903,4.954],"tickSize":3.5,"tickWidth":1}},
           "y":{"field":"cd70","type":"quantitative","scale":{"domain":[2,4.70],"nice":false,"zero":false},"axis":{"orient":"left","title":null,"domain":false,"labels":false,"values":[2.301,2.477,2.602,2.699,2.778,2.845,2.903,2.954,3.301,3.477,3.602,3.699,3.778,3.845,3.903,3.954,4.301,4.477,4.602,4.699],"tickSize":3.5,"tickWidth":1}}}},
         {"mark":{"type":"square","size":9,"color":"black","opacity":0.9},
          "encoding":{
           "x":{"field":"cd11c","type":"quantitative","axis":{"orient":"bottom","title":null,"domain":false,"values":[2,3,4,5],"labelExpr":"datum.value==2?'10²':datum.value==3?'10³':datum.value==4?'10⁴':'10⁵'","labelFontSize":10,"labelPadding":2,"tickSize":7,"tickWidth":1}},
           "y":{"field":"cd70","type":"quantitative","axis":{"orient":"left","title":null,"domain":false,"values":[2,3,4],"labelExpr":"datum.value==2?'10²':datum.value==3?'10³':'10⁴'","labelFontSize":10,"labelPadding":2,"tickSize":7,"tickWidth":1}}}}
        ]},
       {"data":{"values":[{}]},"mark":{"type":"rule","color":"black","strokeWidth":2},"encoding":{"x":{"datum":3.262,"type":"quantitative","axis":null}}},
       {"data":{"values":[{}]},"mark":{"type":"rule","color":"black","strokeWidth":2},"encoding":{"y":{"datum":3.234,"type":"quantitative","axis":null}}},
       {"data":{"values":[{"label":"0.014"}]},"mark":{"type":"text","align":"left","baseline":"middle","fontSize":11},"encoding":{"x":{"datum":2.06,"type":"quantitative","axis":null},"y":{"datum":4.53,"type":"quantitative","axis":null},"text":{"field":"label"}}},
       {"data":{"values":[{"label":"0.33"}]},"mark":{"type":"text","align":"right","baseline":"middle","fontSize":11},"encoding":{"x":{"datum":5.02,"type":"quantitative","axis":null},"y":{"datum":4.53,"type":"quantitative","axis":null},"text":{"field":"label"}}},
       {"data":{"values":[{"label":"34.8"}]},"mark":{"type":"text","align":"left","baseline":"middle","fontSize":11},"encoding":{"x":{"datum":2.06,"type":"quantitative","axis":null},"y":{"datum":2.14,"type":"quantitative","axis":null},"text":{"field":"label"}}},
       {"data":{"values":[{"label":"64.8"}]},"mark":{"type":"text","align":"right","baseline":"middle","fontSize":11},"encoding":{"x":{"datum":5.02,"type":"quantitative","axis":null},"y":{"datum":2.14,"type":"quantitative","axis":null},"text":{"field":"label"}}}
      ]}
    ]}
   ]},
   {"width":632,"height":1,"data":{"values":[{}]},
    "layer":[
     {"mark":{"type":"rule","strokeWidth":2.5,"color":"black"},"encoding":{"y":{"datum":0,"type":"quantitative","scale":{"domain":[0,1]},"axis":null}}},
     {"mark":{"type":"point","shape":"M-1,-1L0,0L-1,1","size":144,"filled":false,"strokeWidth":2.5,"color":"black","opacity":1},
      "encoding":{"y":{"datum":0,"type":"quantitative"},"x":{"datum":1,"type":"quantitative","scale":{"domain":[0,1]},"axis":{"title":"CD11c","orient":"bottom","domain":false,"ticks":false,"labels":false,"titleFontSize":22,"titleFont":"Open Sans","titlePadding":6}}}}
    ]}
  ]}
 ]},
 {"bounds":"flush","spacing":26,"hconcat":[
  {"width":1,"height":1,"title":{"text":"C)","anchor":"start","frame":"group","dx":-72,"offset":34,"fontSize":26,"font":"Open Sans"},"data":{"values":[{}]},"mark":{"type":"point","opacity":0}},
  {"bounds":"flush","spacing":73,"resolve":{"scale":{"color":"independent","shape":"independent"}},"hconcat":[
   {"width":206,"height":204,"title":{"text":"CD4+","fontSize":20,"offset":17,"dx":-10},
    "layer":[
     {"data":{"name":"cd4"},
      "encoding":{
       "x":{"field":"group","type":"nominal","scale":{"domain":["WT BMDC","CD70-/- BMDC"],"paddingInner":0,"paddingOuter":0},"axis":{"title":null,"labels":false,"ticks":false,"domainWidth":2.5}},
       "y":{"field":"value","type":"quantitative","scale":{"domain":[0,60],"nice":false},"axis":{"values":[0,20,40,60],"title":"% active caspase-8+","titleFontSize":19,"titlePadding":12,"labelFontSize":17,"labelFontWeight":"bold","labelPadding":2,"tickSize":7,"tickWidth":2.5,"domainWidth":2.5}}
      },
      "layer":[
       {"mark":{"type":"point","filled":true,"size":130,"opacity":1},
        "encoding":{
         "xOffset":{"field":"col","type":"ordinal","scale":{"type":"point","domain":[-3,-2,-1,0,1,2,3],"padding":3.87}},
         "color":{"field":"group","type":"nominal","scale":{"domain":["WT BMDC","CD70-/- BMDC"],"range":["black","#757575"]},"legend":null},
         "shape":{"field":"group","type":"nominal","scale":{"domain":["WT BMDC","CD70-/- BMDC"],"range":["circle","triangle-up"]},"legend":null}}},
       {"mark":{"type":"tick","color":"black","thickness":2.5,"size":68,"opacity":1},"encoding":{"y":{"aggregate":"mean","field":"value","type":"quantitative"}}}
      ]},
     {"data":{"values":[{}]},"mark":{"type":"rule","color":"black","strokeWidth":3.5},"encoding":{"x":{"datum":"WT BMDC","type":"nominal","bandPosition":0.5},"x2":{"datum":"CD70-/- BMDC","bandPosition":0.4},"y":{"datum":55.9,"type":"quantitative"}}},
     {"data":{"values":[{"label":"***"}]},"mark":{"type":"text","fontSize":24,"baseline":"middle","align":"center"},"encoding":{"x":{"datum":"WT BMDC","type":"nominal","bandPosition":0.9},"y":{"datum":58.2,"type":"quantitative"},"text":{"field":"label"}}}
    ]},
   {"width":206,"height":204,"title":{"text":"CD8+","fontSize":20,"offset":9},
    "layer":[
     {"data":{"name":"cd8"},
      "encoding":{
       "x":{"field":"group","type":"nominal","scale":{"domain":["WT BMDC","CD70-/- BMDC"],"paddingInner":0,"paddingOuter":0},"axis":{"title":null,"labels":false,"ticks":false,"domainWidth":2.5}},
       "y":{"field":"value","type":"quantitative","scale":{"domain":[0,80],"nice":false},"axis":{"values":[0,20,40,60,80],"title":"% active caspase-8+","titleFontSize":19,"titlePadding":12,"labelFontSize":17,"labelFontWeight":"bold","labelPadding":2,"tickSize":7,"tickWidth":2.5,"domainWidth":2.5}}
      },
      "layer":[
       {"mark":{"type":"point","filled":true,"size":130,"opacity":1},
        "encoding":{
         "xOffset":{"field":"col","type":"ordinal","scale":{"type":"point","domain":[-3,-2,-1,0,1,2,3],"padding":3.87}},
         "color":{"field":"group","type":"nominal","scale":{"domain":["WT BMDC","CD70-/- BMDC"],"range":["black","#757575"]},"legend":{"orient":"none","legendX":209,"legendY":6,"title":null,"labelFontSize":20,"symbolSize":130,"rowPadding":16,"labelOffset":12,"symbolStrokeWidth":0}},
         "shape":{"field":"group","type":"nominal","scale":{"domain":["WT BMDC","CD70-/- BMDC"],"range":["circle","triangle-up"]},"legend":{"orient":"none","legendX":209,"legendY":6,"title":null,"labelFontSize":20,"symbolSize":130,"rowPadding":16,"labelOffset":12,"symbolStrokeWidth":0}}}},
       {"mark":{"type":"tick","color":"black","thickness":2.5,"size":68,"opacity":1},"encoding":{"y":{"aggregate":"mean","field":"value","type":"quantitative"}}}
      ]},
     {"data":{"values":[{}]},"mark":{"type":"rule","color":"black","strokeWidth":3.5},"encoding":{"x":{"datum":"WT BMDC","type":"nominal","bandPosition":0.55},"x2":{"datum":"CD70-/- BMDC","bandPosition":0.57},"y":{"datum":72.3,"type":"quantitative"}}},
     {"data":{"values":[{"label":"**"}]},"mark":{"type":"text","fontSize":24,"baseline":"middle","align":"center"},"encoding":{"x":{"datum":"WT BMDC","type":"nominal","bandPosition":1.0},"y":{"datum":75.6,"type":"quantitative"},"text":{"field":"label"}}}
    ]}
  ]}
 ]}
]
}
